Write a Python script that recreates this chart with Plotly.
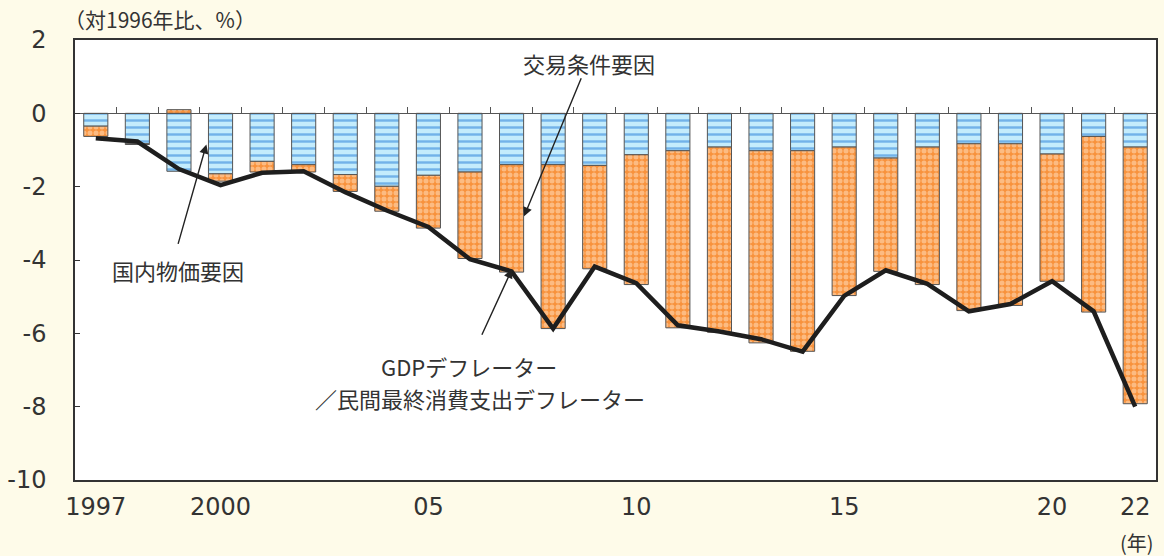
import plotly.graph_objects as go

years = list(range(1997, 2023))
# 国内物価要因 (blue) and 交易条件要因 (orange) contributions, %
domestic = [-0.35, -0.83, -1.58, -1.65, -1.31, -1.40, -1.67, -1.99, -1.69, -1.60,
            -1.40, -1.40, -1.42, -1.13, -1.02, -0.92, -1.02, -1.02, -0.92, -1.22,
            -0.92, -0.83, -0.83, -1.11, -0.63, -0.92]
terms = [-0.28, -0.02, 0.10, -0.20, -0.29, -0.20, -0.46, -0.68, -1.44, -2.36,
         -2.93, -4.47, -2.82, -3.54, -4.83, -5.05, -5.24, -5.47, -4.05, -3.09,
         -3.75, -4.55, -4.41, -3.47, -4.79, -7.00]
# GDPデフレーター／民間最終消費支出デフレーター
deflator = [-0.68, -0.77, -1.52, -1.96, -1.62, -1.58, -2.15, -2.65, -3.10, -3.98,
            -4.31, -5.87, -4.18, -4.63, -5.78, -5.95, -6.16, -6.50, -4.98, -4.28,
            -4.65, -5.40, -5.20, -4.58, -5.40, -8.00]

tick_years = [1997, 2000, 2005, 2010, 2015, 2020, 2022]
tick_text = ['1997', '2000', '05', '10', '15', '20', '22']
y_ticks = [2, 0, -2, -4, -6, -8, -10]
y_text = ['2', '0', '-2', '-4', '-6', '-8', '-10']

font = 'Noto Sans CJK JP'
num_font = 'DejaVu Sans'
txt = '#333333'
bg = '#fefbe9'

fig = go.Figure()
fig.add_trace(go.Bar(
    x=years, y=domestic, name='国内物価要因', width=0.58,
    marker=dict(color='#c4ecfc', line=dict(color='#555555', width=1),
                pattern=dict(shape='-', fgcolor='#1f78d6', bgcolor='#c4ecfc',
                             size=7, solidity=0.35, fillmode='overlay'))))
fig.add_trace(go.Bar(
    x=years, y=terms, name='交易条件要因', width=0.58,
    marker=dict(color='#f8923c', line=dict(color='#555555', width=1),
                pattern=dict(shape='.', fgcolor='#ffe4c8', bgcolor='#f8923c',
                             size=6, solidity=0.55, fillmode='overlay'))))
fig.add_trace(go.Scatter(
    x=years, y=deflator, mode='lines', xaxis='x2',
    line=dict(color='#1e1e1e', width=4.5), name='デフレーター'))

fig.update_layout(
    width=1164, height=556,
    margin=dict(l=75, r=6, t=40, b=76),
    paper_bgcolor=bg, plot_bgcolor='white',
    barmode='relative', showlegend=False,
    font=dict(family=font, size=22, color=txt),
    xaxis=dict(range=[1996.5, 2022.5], tickvals=tick_years, ticktext=tick_text,
               ticks='', showline=True, linecolor='#333333', linewidth=1.5,
               mirror=True, showgrid=False, zeroline=False,
               tickfont=dict(family=num_font, size=24), ticklabelstandoff=4),
    xaxis2=dict(range=[1996.5, 2022.5], overlaying='x', anchor='free',
                position=10 / 12, side='bottom', showgrid=False, zeroline=False,
                showline=True, linecolor='#555555', linewidth=1.2,
                tickvals=[y + 0.5 for y in years[:-1]], ticks='inside',
                ticklen=6, tickcolor='#555555', showticklabels=False),
    yaxis=dict(range=[-10, 2], tickvals=y_ticks, ticktext=y_text,
               showgrid=False, zeroline=False,
               showline=True, linecolor='#333333', linewidth=1.5, mirror=True,
               ticks='inside', ticklen=5, tickcolor='#333333',
               tickfont=dict(family=num_font, size=24), ticklabelstandoff=22),
)

arrow = dict(showarrow=True, arrowhead=2, arrowsize=1.3, arrowwidth=1.4,
             arrowcolor='#222222', axref='x', ayref='y', text='')
fig.add_annotation(x=1999.66, y=-0.85, ax=1998.97, ay=-3.6, **arrow)
fig.add_annotation(x=2007.3, y=-2.81, ax=2008.69, ay=1.0, **arrow)
fig.add_annotation(x=2007.01, y=-4.25, ax=2006.27, ay=-6.08, **arrow)

fig.add_annotation(x=1998.97, y=-4.27, text='国内物価要因', showarrow=False)
fig.add_annotation(x=2008.86, y=1.36, text='交易条件要因', showarrow=False)
fig.add_annotation(x=2005.98, y=-6.9, text='GDPデフレーター', showarrow=False)
fig.add_annotation(x=2006.24, y=-7.77, text='／民間最終消費支出デフレーター',
                   showarrow=False)

fig.add_annotation(xref='paper', yref='paper', x=-0.012, y=1.0, yshift=4,
                   xanchor='left', yanchor='bottom', showarrow=False,
                   text='（対1996年比、%）', font=dict(size=21))
fig.add_annotation(xref='paper', yref='paper', x=1.0, y=0, yshift=-46,
                   xanchor='right', yanchor='top', showarrow=False,
                   text='(年)', font=dict(size=20))

fig.write_html("out.html", config={'displayModeBar': False},
               post_script="document.body.style.margin='0';"
                           "document.body.style.background='%s';" % bg)
